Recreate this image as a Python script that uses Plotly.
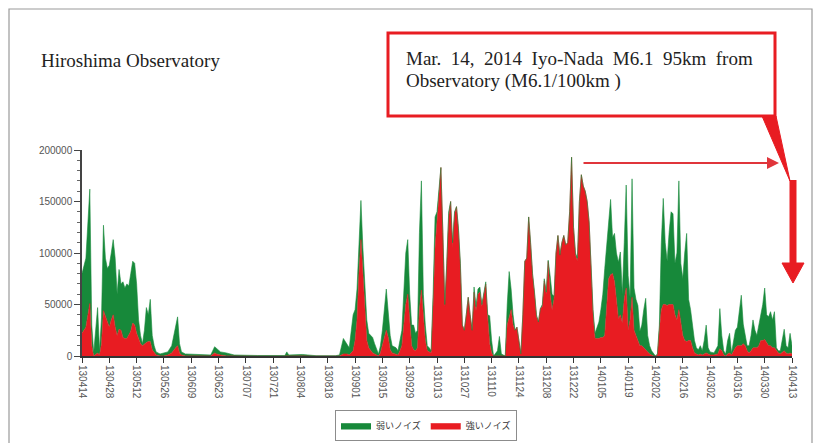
import plotly.graph_objects as go

# ---------------- data ----------------
tick_labels = ["130414", "130428", "130512", "130526", "130609", "130623", "130707",
               "130721", "130804", "130818", "130901", "130915", "130929", "131013",
               "131027", "131110", "131124", "131208", "131222", "140105", "140119",
               "140202", "140216", "140302", "140316", "140330", "140413"]
tick_days = [0, 14, 28, 42, 56, 70, 84, 98, 112, 126, 140, 154, 168, 182, 196,
             210, 224, 238, 252, 266, 280, 294, 308, 322, 336, 350, 364]

# day index counted from 2013-04-14
days = [0, 2, 4, 5, 6, 8, 9, 10, 11, 12, 13, 14, 15, 16, 17, 18, 19, 20, 21, 22, 23, 24,
        25, 26, 27, 28, 29, 30, 31, 32, 33, 34, 35, 36, 37, 38, 40, 42, 44, 46, 48, 49,
        50, 51, 53, 60, 66, 68, 69, 71, 74, 78, 90, 104, 105, 106, 113, 120, 130, 132,
        134, 136, 137, 139, 140, 141, 142, 143, 144, 145, 146, 147, 149, 150, 152, 153,
        154, 156, 157, 158, 159, 161, 162, 163, 164, 166, 167, 168, 169, 170, 171, 172,
        173, 174, 175, 176, 177, 178, 179, 180, 181, 182, 183, 184, 185, 186, 187, 188,
        189, 190, 191, 192, 193, 194, 195, 196, 197, 198, 199, 200, 201, 202, 203, 204,
        205, 206, 207, 208, 209, 210, 211, 213, 214, 215, 217, 218, 219, 220, 221, 222,
        223, 224, 225, 226, 227, 228, 229, 230, 231, 232, 233, 234, 235, 236, 237, 238,
        239, 240, 241, 242, 243, 244, 245, 246, 247, 248, 249, 250, 251, 252, 253, 254,
        255, 256, 257, 258, 259, 260, 261, 262, 263, 264, 265, 266, 267, 268, 269, 270,
        271, 272, 273, 274, 275, 276, 277, 278, 279, 280, 281, 282, 283, 284, 285, 286,
        287, 288, 289, 290, 291, 292, 293, 294, 295, 296, 297, 298, 299, 300, 301, 302,
        303, 304, 305, 306, 307, 308, 309, 310, 311, 312, 313, 314, 315, 316, 317, 318,
        319, 320, 321, 322, 324, 326, 327, 328, 329, 330, 331, 332, 333, 334, 335, 336,
        337, 338, 339, 340, 341, 342, 343, 344, 345, 346, 347, 348, 349, 350, 351, 352,
        353, 354, 355, 356, 357, 358, 359, 360, 361, 362, 363, 364]

strong_noise = [22000, 28000, 51000, 10000, 0, 3000, 1000, 12000, 44000, 38000, 33000, 28000,
                35000, 40000, 28000, 20000, 26000, 25000, 18000, 17000, 17000, 20000, 24000,
                32000, 30000, 22000, 16000, 12000, 10000, 12000, 13000, 14000, 14000, 6000,
                3000, 1000, 0, 0, 1000, 3000, 8000, 10000, 3000, 1000, 0, 0, 0, 3000, 2000,
                1000, 0, 0, 0, 0, 0, 0, 0, 0, 0, 0,
                2000, 2000, 1000, 5000, 15000, 35000, 80000, 113000, 80000, 40000, 15000,
                8000, 3000, 2000, 0, 3000, 10000, 25000, 18000, 6000, 3000, 2000, 1000,
                5000, 10000, 50000, 60000, 35000, 10000, 6000, 5000, 8000, 45000, 64000,
                35000, 15000, 5000, 4000, 3000, 50000, 105000, 130000, 160000, 183000,
                120000, 48000, 88000, 135000, 150000, 105000, 138000, 145000, 122000,
                85000, 30000, 25000, 40000, 57000, 40000, 25000, 62000, 44000, 60000,
                62000, 48000, 58000, 70000, 37000, 12000, 3000, 0, 0, 0, 0, 0, 30000,
                37000, 45000, 30000, 25000, 28000, 15000, 2000, 40000, 92000, 95000,
                135000, 108000, 78000, 60000, 38000, 33000, 46000, 48000, 73000, 60000,
                92000, 60000, 45000, 55000, 100000, 117000, 98000, 110000, 117000, 108000,
                110000, 140000, 193000, 125000, 98000, 92000, 150000, 176000, 165000,
                160000, 150000, 130000, 90000, 40000, 17000, 17000, 17000, 18000, 18000,
                20000, 50000, 75000, 79000, 80000, 72000, 55000, 36000, 40000, 32000,
                55000, 66000, 25000, 35000, 57000, 25000, 20000, 15000, 10000, 10000,
                8000, 5000, 3000, 2000, 1000, 0, 0, 1000, 25000, 45000, 50000, 50000,
                49000, 50000, 50000, 50000, 40000, 35000, 45000, 30000, 20000, 15000,
                14000, 15000, 15000, 8000, 3000, 2000, 1000, 2000, 1000, 2000, 3000, 2000,
                1000, 1000, 2000, 7000, 5000, 1000, 0, 2000, 3000, 1000, 5000, 8000,
                10000, 10000, 10000, 12000, 10000, 5000, 3000, 5000, 8000, 8000, 8000,
                10000, 15000, 15000, 16000, 13000, 10000, 10000, 8000, 8000, 5000, 3000,
                2000, 4000, 5000, 3000, 2000, 3000, 2000]

weak_noise = [58000, 67000, 111000, 20000, 3000, 44000, 4000, 25000, 83000, 57000, 52000,
              60000, 65000, 73000, 67000, 40000, 58000, 45000, 54000, 49000, 53000, 48000,
              56000, 60000, 60000, 48000, 19000, 8000, 2000, 13000, 34000, 26000, 41000,
              14000, 7000, 3000, 2000, 3000, 3000, 7000, 22000, 28000, 9000, 3000, 2000,
              1500, 1000, 6000, 5000, 3000, 3000, 1000, 500, 500, 4000, 1000, 1500, 300,
              300, 1000,
              15000, 8000, 7000, 35000, 30000, 30000, 30000, 38000, 25000, 25000, 20000,
              14000, 15000, 10000, 2000, 7000, 15000, 40000, 27000, 14000, 7000, 6000,
              4000, 10000, 15000, 50000, 53000, 25000, 20000, 24000, 17000, 17000, 75000,
              106000, 25000, 15000, 5000, 4000, 2000, 10000, 30000, 10000, 0, 0, 0, 2000,
              2000, 5000, 0, 5000, 2000, 0, 2000, 5000, 0, 0, 0, 0, 0, 0, 5000, 4000,
              5000, 5000, 2000, 2000, 2000, 3000, 27000, 12000, 0, 5000, 19000, 2000, 0,
              20000, 45000, 20000, 10000, 0, 0, 0, 0, 0, 0, 0, 0, 2000, 2000, 2000, 2000,
              0, 0, 2000, 2000, 2000, 1000, 18000, 15000, 3000, 0, 0, 0, 0, 0, 0, 0, 0,
              0, 0, 2000, 3000, 0, 0, 0, 0, 0, 0, 0, 5000, 5000, 11000, 16000, 27000,
              42000, 65000, 60000, 60000, 73000, 35000, 47000, 45000, 55000, 61000,
              28000, 55000, 100000, 53000, 22000, 115000, 41000, 35000, 34000, 14000,
              20000, 37000, 51000, 17000, 8000, 4000, 2000, 0, 1000, 5000, 65000, 103000,
              60000, 43000, 70000, 90000, 88000, 50000, 65000, 125000, 60000, 55000,
              85000, 105000, 40000, 30000, 22000, 12000, 6000, 5000, 8000, 4000, 13000,
              27000, 6000, 3000, 2000, 8000, 39000, 15000, 4000, 2000, 13000, 19000, 2000,
              10000, 17000, 18000, 35000, 49000, 19000, 10000, 5000, 7000, 15000, 27000,
              17000, 12000, 20000, 25000, 35000, 50000, 27000, 28000, 33000, 27000, 35000,
              3000, 2000, 3000, 11000, 21000, 7000, 6000, 19000, 8000]

series_names = ["強いノイズ", "弱いノイズ"]

# ---------------- styling ----------------
RED = "#e81c22"
GREEN = "#17893a"
W, H = 820, 443
L, R, T, B = 82, 28, 150, 87
PW, PH = W - L - R, H - T - B


def px(xp):
    return (xp - L) / PW


def py(yp):
    return (H - B - yp) / PH


fig = go.Figure()
fig.add_trace(go.Scatter(x=days, y=strong_noise, name=series_names[0], mode="lines",
                         stackgroup="noise", line=dict(color=RED, width=0.6),
                         fillcolor=RED, legendrank=2))
fig.add_trace(go.Scatter(x=days, y=weak_noise, name=series_names[1], mode="lines",
                         stackgroup="noise", line=dict(color=GREEN, width=0.6),
                         fillcolor=GREEN, legendrank=1))

shapes = [
    # outer frame
    dict(type="rect", xref="paper", yref="paper", x0=px(9), x1=px(812), y0=py(470), y1=py(9),
         line=dict(color="#9a9a9a", width=1.2), fillcolor="rgba(0,0,0,0)", layer="below"),
    # callout box
    dict(type="rect", xref="paper", yref="paper", x0=px(388), x1=px(775), y0=py(116), y1=py(33),
         line=dict(color=RED, width=3), fillcolor="white"),
    # callout pointer
    dict(type="path", xref="paper", yref="paper",
         path=f"M {px(762)},{py(116)} L {px(776)},{py(116)} L {px(790)},{py(181)} Z",
         line=dict(color=RED, width=1), fillcolor=RED),
    # thick down arrow shaft
    dict(type="rect", xref="paper", yref="paper", x0=px(789.5), x1=px(796.5), y0=py(265), y1=py(180),
         line=dict(width=0), fillcolor=RED),
    # thick down arrow head
    dict(type="path", xref="paper", yref="paper",
         path=f"M {px(782)},{py(263)} L {px(804)},{py(263)} L {px(793)},{py(283)} Z",
         line=dict(color=RED, width=1), fillcolor=RED),
]

serif = "Liberation Serif"
sp = "\u00a0\u00a0"
line1 = sp.join(["Mar.", "14,", "2014", "Iyo-Nada", "M6.1", "95km", "from"])
annotations = [
    dict(text="Hiroshima Observatory", xref="paper", yref="paper", x=px(39), y=py(60),
         xanchor="left", yanchor="middle", showarrow=False,
         font=dict(family=serif, size=19, color="#222222")),
    dict(text=line1, xref="paper", yref="paper",
         x=px(404), y=py(58), xanchor="left", yanchor="middle", showarrow=False,
         font=dict(family=serif, size=19, color="#222222")),
    dict(text="Observatory (M6.1/100km )", xref="paper", yref="paper",
         x=px(404), y=py(81), xanchor="left", yanchor="middle", showarrow=False,
         font=dict(family=serif, size=19, color="#222222")),
    # thin horizontal arrow
    dict(text="", xref="paper", yref="paper", x=px(779), y=py(163), ax=-197, ay=0,
         showarrow=True, arrowhead=2, arrowsize=1.2, arrowwidth=2, arrowcolor="#e0353b"),
]

fig.update_layout(
    width=W, height=H,
    margin=dict(l=L, r=R, t=T, b=B, pad=0, autoexpand=False),
    paper_bgcolor="white", plot_bgcolor="white",
    shapes=shapes, annotations=annotations,
    showlegend=True,
    legend=dict(orientation="h", x=px(426), xanchor="center", y=py(410), yanchor="top",
                traceorder="normal",
                bgcolor="white", bordercolor="#8c8c8c", borderwidth=1,
                font=dict(family="Noto Sans CJK JP", size=9, color="#333333"),
                itemwidth=30, tracegroupgap=0),
    xaxis=dict(range=[0, 364], tickmode="array", tickvals=tick_days, ticktext=tick_labels,
               tickangle=90, ticks="outside", ticklen=5, tickcolor="#333333",
               showline=True, linecolor="#333333", linewidth=2, showgrid=False, zeroline=False,
               automargin=False,
               tickfont=dict(family="Arial, Liberation Sans", size=10, color="#555555")),
    yaxis=dict(range=[0, 200000], tickmode="array",
               tickvals=[0, 50000, 100000, 150000, 200000],
               ticktext=["0", "50000", "100000", "150000", "200000"],
               ticks="outside", ticklen=6, tickcolor="#444444",
               minor=dict(dtick=10000, ticks="outside", ticklen=3, tickcolor="#666666"),
               showline=True, linecolor="#444444", linewidth=1.5, showgrid=False, zeroline=False,
               automargin=False,
               tickfont=dict(family="Arial, Liberation Sans", size=10, color="#555555")),
)

fig.write_html("out.html", config={"displayModeBar": False},
               post_script="document.body.style.margin='0';document.body.style.overflow='hidden';")
